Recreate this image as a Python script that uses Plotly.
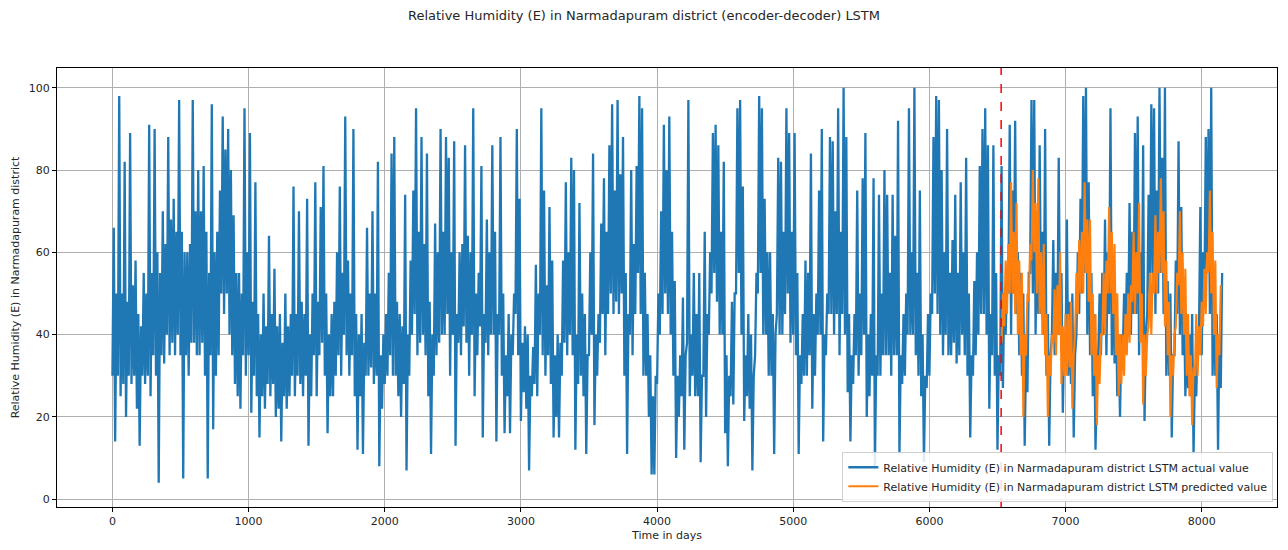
import plotly.graph_objects as go

title = "Relative Humidity (E) in Narmadapuram district (encoder-decoder) LSTM"
actual_name = "Relative Humidity (E) in Narmadapuram district LSTM actual value"
pred_name = "Relative Humidity (E) in Narmadapuram district LSTM predicted value"

step_days = 10
actual_start = 0
pred_start = 6530
split_day = 6527

actual_values = [
    # 0 - 490
    30, 66, 14, 50, 30, 98, 25, 50, 28, 82, 20, 48, 30, 89, 28, 52, 30, 58, 22, 45,
    13, 42, 30, 55, 28, 50, 30, 91, 25, 55, 35, 90, 30, 60, 4, 55, 35, 70, 33, 62,
    40, 88, 35, 68, 38, 73, 35, 65, 40, 97,
    # 500 - 990
    35, 65, 5, 60, 35, 60, 30, 62, 38, 97, 38, 70, 35, 80, 35, 70, 38, 81, 30, 65,
    5, 55, 35, 96, 17, 60, 30, 65, 35, 75, 50, 93, 45, 85, 50, 90, 40, 80, 35, 69,
    28, 55, 25, 55, 22, 50, 35, 95, 30, 60,
    # 1000 - 1490
    35, 89, 21, 48, 30, 77, 25, 45, 15, 40, 25, 50, 22, 42, 28, 64, 25, 45, 28, 56,
    20, 42, 22, 45, 14, 38, 25, 50, 22, 42, 25, 45, 30, 76, 25, 45, 30, 70, 28, 48,
    25, 45, 30, 73, 13, 40, 25, 50, 35, 77,
    # 1500 - 1990
    25, 48, 35, 71, 38, 81, 30, 50, 16, 40, 25, 45, 25, 48, 30, 60, 35, 76, 30, 55,
    40, 93, 35, 58, 30, 50, 35, 90, 25, 45, 12, 40, 25, 45, 11, 38, 30, 66, 30, 50,
    32, 70, 28, 50, 30, 82, 8, 35, 22, 40,
    # 2000 - 2490
    28, 45, 30, 55, 35, 84, 30, 88, 30, 48, 25, 45, 20, 42, 28, 74, 7, 40, 30, 58,
    40, 75, 45, 95, 35, 65, 38, 88, 40, 62, 35, 84, 25, 48, 11, 40, 30, 67, 35, 60,
    38, 90, 40, 65, 40, 88, 45, 83, 30, 60,
    # 2500 - 2990
    40, 87, 13, 45, 38, 60, 35, 62, 42, 86, 38, 64, 30, 60, 40, 95, 25, 50, 35, 55,
    42, 81, 15, 45, 38, 68, 35, 60, 40, 86, 40, 65, 14, 45, 40, 88, 30, 50, 16, 35,
    25, 45, 16, 40, 35, 50, 45, 90, 35, 73,
    # 3000 - 3490
    19, 38, 26, 42, 22, 40, 7, 30, 25, 37, 28, 57, 25, 50, 40, 95, 35, 75, 30, 52,
    35, 71, 28, 58, 15, 35, 20, 40, 15, 38, 30, 58, 38, 77, 35, 60, 40, 83, 35, 80,
    12, 40, 28, 72, 30, 50, 25, 45, 11, 35,
    # 3500 - 3990
    35, 60, 40, 84, 18, 40, 30, 45, 38, 67, 45, 78, 35, 65, 45, 86, 50, 96, 45, 75,
    48, 97, 45, 79, 50, 88, 30, 55, 11, 45, 40, 80, 35, 62, 45, 81, 55, 98, 45, 95,
    30, 55, 30, 45, 20, 35, 6, 25, 6, 30,
    # 4000 - 4490
    28, 50, 40, 70, 45, 91, 50, 80, 45, 93, 40, 65, 30, 53, 10, 30, 20, 35, 25, 49,
    12, 35, 38, 97, 25, 40, 30, 55, 25, 45, 25, 55, 9, 30, 30, 65, 20, 45, 40, 60,
    50, 89, 55, 91, 48, 86, 40, 65, 40, 82,
    # 4500 - 4990
    16, 35, 8, 30, 25, 48, 23, 50, 50, 95, 55, 97, 40, 76, 19, 35, 25, 45, 22, 40,
    7, 30, 35, 55, 50, 98, 55, 95, 40, 73, 40, 60, 30, 60, 30, 45, 11, 40, 45, 83,
    40, 82, 40, 65, 45, 95, 50, 89, 38, 65,
    # 5000 - 5490
    40, 89, 35, 55, 11, 35, 28, 45, 30, 58, 30, 55, 35, 84, 22, 45, 30, 50, 40, 75,
    40, 90, 14, 40, 35, 50, 45, 88, 45, 87, 40, 70, 45, 95, 35, 65, 45, 100, 40, 88,
    26, 45, 14, 35, 28, 45, 35, 75, 30, 50,
    # 5500 - 5990
    35, 78, 40, 89, 20, 40, 25, 45, 30, 78, 8, 35, 30, 74, 30, 50, 35, 80, 35, 74,
    35, 55, 30, 74, 35, 64, 35, 92, 11, 35, 28, 45, 30, 50, 40, 95, 40, 60, 40, 100,
    35, 55, 30, 75, 25, 40, 9, 30, 27, 45,
    # 6000 - 6490
    30, 50, 45, 88, 50, 98, 45, 97, 40, 80, 35, 60, 40, 90, 35, 55, 35, 63, 38, 74,
    33, 55, 35, 77, 40, 60, 35, 83, 30, 50, 15, 35, 30, 53, 35, 60, 40, 81, 45, 90,
    45, 95, 40, 86, 22, 45, 35, 86, 30, 55,
    # 6500 - 6990
    12, 35, 30, 81, 27, 50, 40, 53, 50, 91, 40, 75, 50, 92, 45, 60, 35, 55, 30, 50,
    13, 35, 26, 55, 55, 97, 50, 97, 40, 70, 45, 86, 45, 65, 40, 90, 30, 45, 13, 35,
    40, 63, 35, 55, 40, 83, 40, 55, 21, 40,
    # 7000 - 7490
    35, 68, 30, 48, 28, 50, 15, 35, 40, 60, 45, 73, 50, 98, 55, 100, 40, 77, 35, 55,
    25, 45, 12, 30, 35, 50, 35, 55, 40, 68, 35, 60, 45, 95, 35, 59, 33, 50, 25, 40,
    20, 40, 35, 50, 37, 55, 40, 72, 40, 65,
    # 7500 - 7990
    45, 89, 45, 93, 35, 60, 40, 86, 19, 40, 45, 74, 50, 96, 55, 95, 45, 75, 50, 100,
    55, 83, 45, 100, 30, 53, 30, 50, 15, 35, 35, 58, 45, 87, 40, 71, 35, 50, 25, 37,
    27, 40, 25, 45, 11, 30, 25, 40, 40, 71,
    # 8000 - 8150
    35, 60, 50, 88, 55, 90, 45, 100, 30, 53, 30, 45, 12, 40, 27, 55,
]

pred_values = [
    38, 50, 42, 58, 45, 62, 50, 77, 50, 65, 45, 72, 40, 58, 35, 55, 20, 40, 35, 50,
    48, 62, 58, 80, 60, 72, 50, 78, 45, 60, 40, 62, 35, 45, 20, 35, 30, 40, 38, 51,
    35, 52, 40, 60, 28, 42, 30, 45, 30, 45, 32, 48, 22, 35, 40, 55, 45, 63, 50, 65,
    50, 77, 55, 68, 48, 68, 35, 50, 30, 45, 18, 35, 28, 40, 40, 55, 40, 58, 50, 71,
    50, 65, 45, 62, 35, 50, 25, 40, 28, 40, 30, 45, 35, 50, 38, 52, 48, 65, 45, 60,
    50, 72, 38, 50, 23, 40, 30, 40, 42, 55, 40, 55, 50, 69, 50, 65, 55, 78, 55, 70,
    42, 58, 35, 48, 20, 35, 30, 40, 42, 55, 52, 70, 45, 60, 40, 56, 30, 45, 25, 35,
    18, 32, 30, 45, 30, 42, 35, 48, 42, 56, 45, 60, 55, 75, 50, 65, 40, 58, 27, 40,
    35, 52,
]

x_ticks = [0, 1000, 2000, 3000, 4000, 5000, 6000, 7000, 8000]
y_ticks = [0, 20, 40, 60, 80, 100]

actual_days = [actual_start + i * step_days for i in range(len(actual_values))]
pred_days = [pred_start + i * step_days for i in range(len(pred_values))]

fig = go.Figure()
fig.add_trace(go.Scatter(x=actual_days, y=actual_values, mode="lines", name=actual_name,
                         line=dict(color="#1f77b4", width=2.3, simplify=False)))
fig.add_trace(go.Scatter(x=pred_days, y=pred_values, mode="lines", name=pred_name,
                         line=dict(color="#ff7f0e", width=2.1, simplify=False)))
fig.add_vline(x=split_day, line=dict(color="red", width=1.5, dash="dash"))

font_family = "DejaVu Sans, sans-serif"
fig.update_layout(
    width=1288, height=550,
    margin=dict(l=57, r=10, t=68, b=30),
    paper_bgcolor="white", plot_bgcolor="white",
    font=dict(family=font_family, size=11, color="#262626"),
    title=dict(text=title, x=0.5, xanchor="center", y=0.972, yanchor="middle",
               font=dict(size=13, color="#262626")),
    legend=dict(x=0.997, y=0.012, xanchor="right", yanchor="bottom",
                bgcolor="rgba(255,255,255,0.85)", bordercolor="#d0d0d0", borderwidth=1,
                font=dict(size=11), tracegroupgap=0),
    showlegend=True,
)
fig.update_xaxes(range=[-407, 8553], tickvals=x_ticks, showgrid=True, gridcolor="#b0b0b0",
                 gridwidth=0.8, zeroline=False, showline=True, linecolor="black", linewidth=1,
                 mirror=True, ticks="outside", ticklen=4, tickcolor="black",
                 title=dict(text="Time in days", standoff=4, font=dict(size=11)))
fig.update_yaxes(range=[-1.9, 104.8], tickvals=y_ticks, showgrid=True, gridcolor="#b0b0b0",
                 gridwidth=0.8, zeroline=False, showline=True, linecolor="black", linewidth=1,
                 mirror=True, ticks="outside", ticklen=4, tickcolor="black",
                 title=dict(text="Relative Humidity (E) in Narmadapuram district", standoff=6,
                            font=dict(size=11)))

fig.write_html("out.html")
